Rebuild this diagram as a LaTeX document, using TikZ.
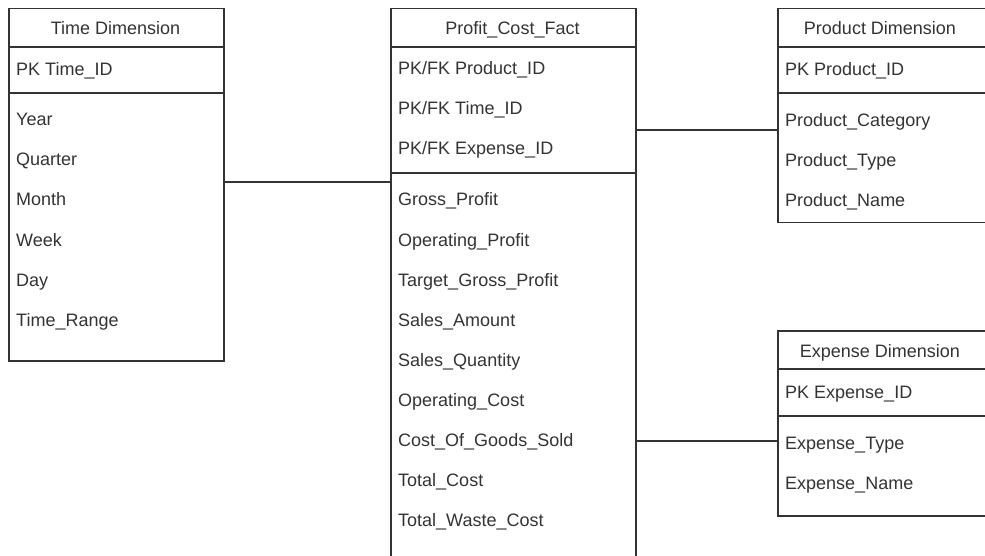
\documentclass[tikz,border=0pt]{standalone}
\usepackage{fontspec}
\setmainfont{Liberation Sans}
\usepackage{tikz}

\tikzset{
	tbl/.style={draw=black!80, line width=1.5pt, rectangle, inner sep=0pt, anchor=north west},
	sep/.style={draw=black!80, line width=1.5pt},
	link/.style={draw=black!80, line width=1.5pt},
	hdr/.style={inner sep=0pt, anchor=base, font=\fontsize{18}{20}\selectfont, text=black!80},
	fld/.style={inner sep=0pt, anchor=base west, font=\fontsize{18}{20}\selectfont, text=black!80}
}

\begin{document}
\begin{tikzpicture}[x=1pt, y=-1pt]
\useasboundingbox (0,0) rectangle (985,556);
\clip (0,0) rectangle (985,556);

% tables
\node[tbl, minimum width=215pt, minimum height=352pt] (time) at (8,8) {};
\node[tbl, minimum width=245pt, minimum height=570pt] (fact) at (390,8) {};
\node[tbl, minimum width=230pt, minimum height=214pt] (prod) at (777,8) {};
\node[tbl, minimum width=230pt, minimum height=185pt] (exp) at (777,330) {};

% separators
\draw[sep] (time.west |- 0,47) -- (time.east |- 0,47);
\draw[sep] (time.west |- 0,93) -- (time.east |- 0,93);
\draw[sep] (fact.west |- 0,47) -- (fact.east |- 0,47);
\draw[sep] (fact.west |- 0,173) -- (fact.east |- 0,173);
\draw[sep] (prod.west |- 0,47) -- (prod.east |- 0,47);
\draw[sep] (prod.west |- 0,93) -- (prod.east |- 0,93);
\draw[sep] (exp.west |- 0,369) -- (exp.east |- 0,369);
\draw[sep] (exp.west |- 0,416) -- (exp.east |- 0,416);

% headers
\node[hdr] (time-h) at (115.5,35) {Time Dimension};
\node[hdr] (fact-h) at (512.5,35) {Profit\_Cost\_Fact};
\node[hdr] (prod-h) at (880,35) {Product Dimension};
\node[hdr] (exp-h) at (880,357) {Expense Dimension};

% keys
\node[fld] (time-k) at (16,76) {PK Time\_ID};
\foreach \t [count=\i] in {Product\_ID, Time\_ID, Expense\_ID}
{
	\node[fld] (fact-k\i) at (398, 35+40*\i) {PK/FK \t};
}
\node[fld] (prod-k) at (785,76) {PK Product\_ID};
\node[fld] (exp-k) at (785,398) {PK Expense\_ID};

% fields
\foreach \t [count=\i] in {Year, Quarter, Month, Week, Day, Time\_Range}
{
	\node[fld] (time-f\i) at (16, 86+40*\i) {\t};
}
\foreach \t [count=\i] in {Gross\_Profit, Operating\_Profit, Target\_Gross\_Profit, Sales\_Amount, Sales\_Quantity, Operating\_Cost, Cost\_Of\_Goods\_Sold, Total\_Cost, Total\_Waste\_Cost}
{
	\node[fld] (fact-f\i) at (398, 166+40*\i) {\t};
}
\foreach \t [count=\i] in {Product\_Category, Product\_Type, Product\_Name}
{
	\node[fld] (prod-f\i) at (785, 87+40*\i) {\t};
}
\foreach \t [count=\i] in {Expense\_Type, Expense\_Name}
{
	\node[fld] (exp-f\i) at (785, 409+40*\i) {\t};
}

% links
\draw[link] (time.east |- 0,182) -- (fact.west |- 0,182);
\draw[link] (fact.east |- 0,130) -- (prod.west |- 0,130);
\draw[link] (fact.east |- 0,441) -- (exp.west |- 0,441);
\end{tikzpicture}
\end{document}
